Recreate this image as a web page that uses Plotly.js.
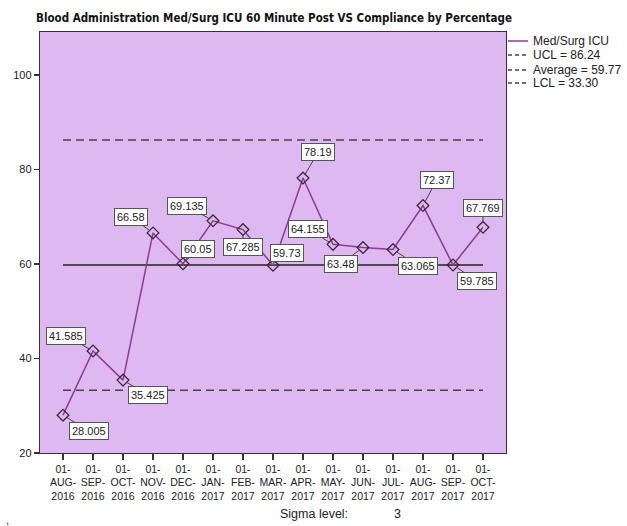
<!DOCTYPE html>
<html>
<head>
<meta charset="utf-8">
<script src="https://cdn.plot.ly/plotly-3.0.1.min.js"></script>
<style>html,body{margin:0;padding:0;background:#fff;}#chart{width:627px;height:526px;}</style>
</head>
<body>
<div id="chart"></div>
<script>
// ---- data ----
const categories = ['01-AUG-2016','01-SEP-2016','01-OCT-2016','01-NOV-2016','01-DEC-2016','01-JAN-2017','01-FEB-2017','01-MAR-2017','01-APR-2017','01-MAY-2017','01-JUN-2017','01-JUL-2017','01-AUG-2017','01-SEP-2017','01-OCT-2017'];
const compliance = [28.005, 41.585, 35.425, 66.58, 60.05, 69.135, 67.285, 59.73, 78.19, 64.155, 63.48, 63.065, 72.37, 59.785, 67.769];
const seriesName = 'Med/Surg ICU';
const ucl = 86.24;
const average = 59.77;
const lcl = 33.30;
const sigmaLevel = 3;
const yTicks = [20, 40, 60, 80, 100];

// ---- layout helpers (style only) ----
const labelOffsets = [[26,16],[-27,-15],[25,15],[-22,-16],[15,-15],[-26,-15],[0,17],[14,-12],[15,-26],[-25,-15],[-22,16],[25,16],[14,-26],[24,16],[0,-19]];
const FONT = 'Liberation Sans, Arial, sans-serif';
const idx = categories.map((c, i) => i);
const tickText = categories.map(c => c.split('-').map((p, j, a) => j < a.length - 1 ? p + '-' : p).join('<br>'));
const firstLast = [idx[0], idx[idx.length - 1]];

const traces = [
  {x: firstLast, y: firstLast.map(() => ucl), mode: 'lines', line: {color: '#444', width: 1.5, dash: '8px,5px'}, showlegend: false, hoverinfo: 'skip'},
  {x: firstLast, y: firstLast.map(() => lcl), mode: 'lines', line: {color: '#444', width: 1.5, dash: '8px,5px'}, showlegend: false, hoverinfo: 'skip'},
  {x: firstLast, y: firstLast.map(() => average), mode: 'lines', line: {color: '#222', width: 1.5}, showlegend: false, hoverinfo: 'skip'},
  {x: idx, y: compliance, mode: 'lines+markers', name: seriesName,
   line: {color: '#8e3a8e', width: 1.5},
   marker: {symbol: 'diamond-open', size: 9, color: '#3a2a3a', line: {width: 1.3, color: '#3a2a3a'}},
   showlegend: false}
];

const annotations = compliance.map((v, i) => ({
  x: idx[i], y: v, xref: 'x', yref: 'y', text: String(v),
  showarrow: true, arrowhead: 0, arrowwidth: 1, arrowcolor: '#444', standoff: 4,
  ax: labelOffsets[i][0], ay: labelOffsets[i][1],
  bgcolor: '#ffffff', bordercolor: '#555', borderwidth: 1, borderpad: 2,
  font: {family: FONT, size: 11, color: '#222'}
}));

// custom legend
const legendItems = [
  {text: seriesName, color: '#8e3a8e', dash: 'solid'},
  {text: 'UCL = ' + ucl.toFixed(2), color: '#444', dash: '4px,3px'},
  {text: 'Average = ' + average.toFixed(2), color: '#444', dash: '4px,3px'},
  {text: 'LCL = ' + lcl.toFixed(2), color: '#444', dash: '4px,3px'}
];
const legY = [0.9786, 0.9454, 0.9097, 0.8789];
const shapes = [];
legendItems.forEach((it, k) => {
  shapes.push({type: 'line', xref: 'paper', yref: 'paper', x0: 1.0043, x1: 1.0472, y0: legY[k], y1: legY[k],
    line: {color: it.color, width: 1.5, dash: it.dash}});
  annotations.push({xref: 'paper', yref: 'paper', x: 1.0536, y: legY[k], xanchor: 'left', yanchor: 'middle',
    text: it.text, showarrow: false, font: {family: FONT, size: 12, color: '#222'}});
});

annotations.push({xref: 'paper', yref: 'paper', x: 0.588, y: -0.1449, text: 'Sigma level:', showarrow: false,
  xanchor: 'center', yanchor: 'middle', font: {family: FONT, size: 12.5, color: '#222'}});
annotations.push({xref: 'paper', yref: 'paper', x: 0.768, y: -0.1449, text: String(sigmaLevel), showarrow: false,
  xanchor: 'center', yanchor: 'middle', font: {family: FONT, size: 12.5, color: '#222'}});
annotations.push({xref: 'paper', yref: 'paper', x: -0.07, y: -0.16, text: ',', showarrow: false,
  xanchor: 'center', yanchor: 'middle', font: {family: FONT, size: 11, color: '#1a237e'}});

const layout = {
  width: 627, height: 526,
  margin: {l: 40, r: 121, t: 32, b: 73},
  paper_bgcolor: '#ffffff', plot_bgcolor: '#DEB9F1',
  title: {text: 'Blood Administration Med/Surg ICU 60 Minute Post VS Compliance by Percentage',
    xref: 'container', yref: 'container', x: 0.437, y: 0.966, xanchor: 'center', yanchor: 'middle',
    font: {family: 'Liberation Sans Narrow, DejaVu Sans Condensed, Arial, sans-serif', size: 11.5, color: '#111', weight: 'bold'}},
  xaxis: {range: [-0.767, 14.767], tickmode: 'array', tickvals: idx, ticktext: tickText,
    showgrid: false, zeroline: false, showline: true, mirror: true, linecolor: '#333', linewidth: 1.2,
    ticks: 'outside', ticklen: 6, tickcolor: '#333', tickwidth: 1.2,
    tickfont: {family: FONT, size: 10.5, color: '#222'}, fixedrange: true},
  yaxis: {range: [20, 109.1], tickmode: 'array', tickvals: yTicks,
    showgrid: false, zeroline: false, showline: true, mirror: true, linecolor: '#333', linewidth: 1.2,
    ticks: 'outside', ticklen: 5, tickcolor: '#333', tickwidth: 1.2,
    tickfont: {family: FONT, size: 11, color: '#222'}, fixedrange: true},
  shapes: shapes,
  annotations: annotations,
  showlegend: false
};

Plotly.newPlot('chart', traces, layout, {staticPlot: true, displayModeBar: false});
</script>
</body>
</html>
